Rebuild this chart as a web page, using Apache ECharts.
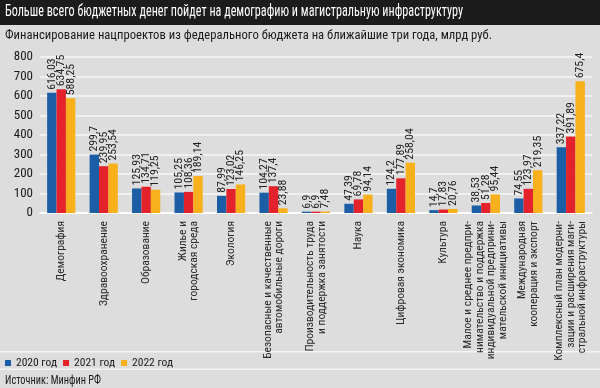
<!DOCTYPE html>
<html><head><meta charset="utf-8">
<script src="https://cdn.jsdelivr.net/npm/echarts@6/dist/echarts.min.js"></script>
<style>html,body{margin:0;padding:0;background:#dddddd}#c{width:600px;height:388px}</style>
</head><body><div id="c"></div>
<script>
const FONT = "'Roboto Condensed','DejaVu Sans Condensed',sans-serif";
const categories = [
  "Демография",
  "Здравоохранение",
  "Образование",
  "Жилье и\nгородская среда",
  "Экология",
  "Безопасные и качественные\nавтомобильные дороги",
  "Производительность труда\nи поддержка занятости",
  "Наука",
  "Цифровая экономика",
  "Культура",
  "Малое и среднее предпри-\nнимательство и поддержка\nиндивидуальной предприни-\nмательской инициативы",
  "Международная\nкооперация и экспорт",
  "Комплексный план модерни-\nзации и расширения маги-\nстральной инфраструктуры"
];
const values2020 = [616.03, 299.7, 125.93, 105.25, 87.99, 104.27, 6.9, 47.39, 124.2, 14.7, 38.53, 74.55, 337.22];
const values2021 = [634.75, 239.95, 134.71, 108.36, 123.02, 137.4, 6.9, 69.78, 177.89, 17.83, 51.28, 123.97, 391.89];
const values2022 = [588.25, 253.54, 119.25, 189.14, 146.25, 23.88, 7.48, 94.14, 258.04, 20.76, 95.44, 219.35, 675.4];
const seriesNames = ["2020 год", "2021 год", "2022 год"];
const yTicks = {min: 0, max: 800, interval: 100};
const titleText = "Больше всего бюджетных денег пойдет на демографию и магистральную инфраструктуру";
const subtitleText = "Финансирование нацпроектов из федерального бюджета на ближайшие три года, млрд руб.";
const sourceText = "Источник: Минфин РФ";

const colors = ["#1b5ea6", "#e3222b", "#f8b01c"];
const mctx = document.createElement('canvas').getContext('2d');
function fitScale(text, font, width) { mctx.font = font; return Math.min(1, width / mctx.measureText(text).width); }
const titleFont = "16px " + FONT, subFont = "13.5px " + FONT, srcFont = "12.5px " + FONT;
const sT = fitScale(titleText, titleFont, 458);
const sS = fitScale(subtitleText, subFont, 487);
const sR = fitScale(sourceText, srcFont, 96);

const chart = echarts.init(document.getElementById('c'), null, {renderer: 'canvas'});
function mk(name, data, i) {
  return {
    name, type: 'bar', data, barWidth: 9.4, barGap: '0%',
    itemStyle: {color: colors[i]},
    label: {
      show: true, position: 'top', rotate: 90, align: 'left', verticalAlign: 'middle',
      distance: 3, fontFamily: FONT, fontSize: 11.8, color: '#222',
      formatter: p => String(p.value).replace('.', ',')
    }
  };
}
chart.setOption({
  animation: false,
  backgroundColor: '#dddddd',
  graphic: [
    {type: 'rect', shape: {x: 0, y: 0, width: 600, height: 25}, style: {fill: '#1c1c1c'}, z: -1},
    {type: 'rect', shape: {x: 0, y: 351, width: 600, height: 1.5}, style: {fill: '#f4f4f4'}, z: -1},
    {type: 'rect', shape: {x: 0, y: 368.5, width: 600, height: 1.5}, style: {fill: '#f4f4f4'}, z: -1},
    {type: 'text', x: 5, y: 4, scaleX: sT, style: {text: titleText, fill: '#ffffff', font: titleFont}},
    {type: 'text', x: 5, y: 29, scaleX: sS, style: {text: subtitleText, fill: '#1a1a1a', font: subFont}},
    {type: 'text', x: 5, y: 374, scaleX: sR, style: {text: sourceText, fill: '#1a1a1a', font: srcFont}}
  ],
  legend: {
    left: 0, top: 352, icon: 'rect', itemWidth: 6, itemHeight: 6, itemGap: 6,
    textStyle: {fontFamily: FONT, fontSize: 11.5, color: '#1a1a1a'},
    data: seriesNames
  },
  grid: {left: 40, right: 8, top: 57, bottom: 175},
  xAxis: {
    type: 'category', data: categories,
    axisLine: {lineStyle: {color: '#ffffff', width: 1.5}},
    axisTick: {show: false},
    axisLabel: {interval: 0, rotate: 90, margin: 8, fontFamily: FONT, fontSize: 11.5, lineHeight: 11.5, color: '#2a2a2a'}
  },
  yAxis: {
    type: 'value', min: yTicks.min, max: yTicks.max, interval: yTicks.interval,
    axisLine: {show: false}, axisTick: {show: false},
    axisLabel: {margin: 7, fontFamily: FONT, fontSize: 13, color: '#1a1a1a'},
    splitLine: {lineStyle: {color: '#f6f6f6', width: 1.5}}
  },
  series: [mk(seriesNames[0], values2020, 0), mk(seriesNames[1], values2021, 1), mk(seriesNames[2], values2022, 2)]
});
</script></body></html>
